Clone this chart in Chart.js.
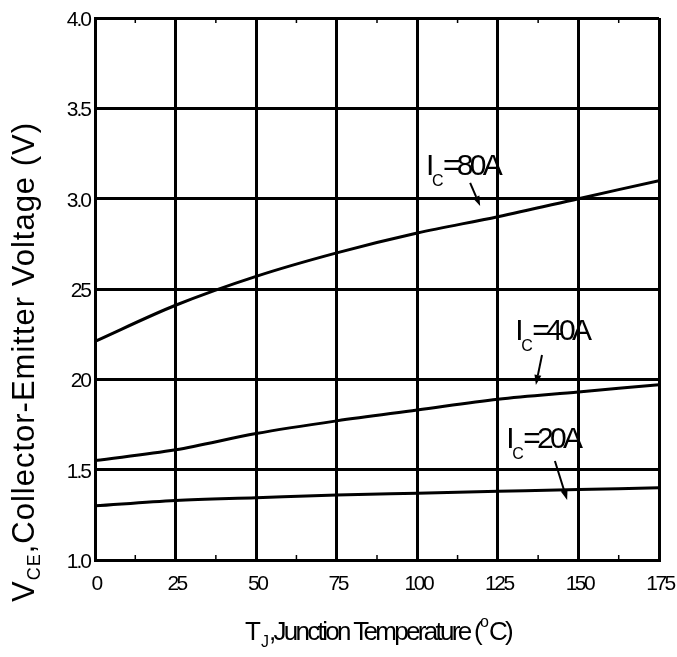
<!DOCTYPE html>
<html>
<head>
<meta charset="utf-8">
<script src="https://cdn.jsdelivr.net/npm/chart.js@4/dist/chart.umd.min.js"></script>
<style>
  html, body { margin: 0; padding: 0; background: #fff; }
  #wrap { width: 677px; height: 657px; }
</style>
</head>
<body>
<div id="wrap"><canvas id="chart" width="677" height="657"></canvas></div>
<script>
// VCE vs junction temperature
const temps = [0, 25, 50, 75, 100, 125, 150, 175];
const vce80 = [2.21, 2.41, 2.57, 2.70, 2.81, 2.90, 3.00, 3.10];
const vce40 = [1.55, 1.61, 1.70, 1.77, 1.83, 1.89, 1.93, 1.97];
const vce20 = [1.30, 1.33, 1.345, 1.36, 1.37, 1.38, 1.39, 1.40];

const xTickValues = [0, 25, 50, 75, 100, 125, 150, 175];
const xTickLabels = ['0', '25', '50', '75', '100', '125', '150', '175'];
const yTickValues = [1.0, 1.5, 2.0, 2.5, 3.0, 3.5, 4.0];
const yTickLabels = ['1.0', '1.5', '20', '25', '3.0', '3.5', '4.0'];

// curve callouts: text, label anchor and arrow (data coords)
const calloutText = ['=80A', '=40A', '=20A'];
const calloutAt = [[103.6, 3.131], [131.3, 2.218], [128.5, 1.620]];
const arrowFrom = [[116.4, 3.087], [138.7, 2.135], [142.7, 1.548]];
const arrowTo = [[119.5, 2.959], [136.8, 1.969], [146.5, 1.332]];

const FONT = '"Liberation Sans", Arial, sans-serif';

function pts(ys) { return temps.map((t, i) => ({ x: t, y: ys[i] })); }

function arrow(ctx, x1, y1, x2, y2) {
  const ang = Math.atan2(y2 - y1, x2 - x1);
  const len = 10, half = 3.5;
  const bx = x2 - len * Math.cos(ang), by = y2 - len * Math.sin(ang);
  ctx.beginPath(); ctx.moveTo(x1, y1); ctx.lineTo(bx, by); ctx.stroke();
  ctx.beginPath();
  ctx.moveTo(x2, y2);
  ctx.lineTo(bx + half * Math.sin(ang), by - half * Math.cos(ang));
  ctx.lineTo(bx - half * Math.sin(ang), by + half * Math.cos(ang));
  ctx.closePath(); ctx.fill();
}

const extras = {
  id: 'extras',
  afterDraw(chart) {
    const { ctx, chartArea: a } = chart;
    const x = chart.scales.x, y = chart.scales.y;
    ctx.save();
    ctx.fillStyle = '#000'; ctx.strokeStyle = '#000';

    // minor ticks on top and bottom edges
    ctx.lineWidth = 1.5;
    for (let v = 12.5; v < 175; v += 25) {
      const px = x.getPixelForValue(v);
      ctx.beginPath();
      ctx.moveTo(px, a.bottom); ctx.lineTo(px, a.bottom - 5);
      ctx.moveTo(px, a.top); ctx.lineTo(px, a.top + 5);
      ctx.stroke();
    }

    // tick labels
    ctx.font = '21px ' + FONT;
    ctx.letterSpacing = '-2.5px';
    ctx.textBaseline = 'alphabetic';
    ctx.textAlign = 'center';
    xTickValues.forEach((v, i) => ctx.fillText(xTickLabels[i], x.getPixelForValue(v) + 1, a.bottom + 30));
    ctx.letterSpacing = '-2px';
    ctx.textAlign = 'right';
    yTickValues.forEach((v, i) => ctx.fillText(yTickLabels[i], 90, y.getPixelForValue(v) + 8));

    // callouts
    ctx.textAlign = 'left';
    calloutText.forEach((t, i) => {
      const px = x.getPixelForValue(calloutAt[i][0]);
      const py = y.getPixelForValue(calloutAt[i][1]);
      ctx.font = '30px ' + FONT; ctx.letterSpacing = '0px';
      ctx.fillText('I', px - 3, py);
      ctx.font = '16px ' + FONT;
      ctx.fillText('C', px + 3, py + 11);
      ctx.font = '30px ' + FONT; ctx.letterSpacing = '-3.7px';
      ctx.fillText(t, px + 14, py);
      ctx.lineWidth = 2;
      arrow(ctx, x.getPixelForValue(arrowFrom[i][0]), y.getPixelForValue(arrowFrom[i][1]),
                 x.getPixelForValue(arrowTo[i][0]), y.getPixelForValue(arrowTo[i][1]));
    });

    // x axis title: T_J,Junction Temperature (°C)
    const big = '26px ' + FONT, small = '16px ' + FONT, ls = '-2.7px';
    const parts = [
      { t: 'T', f: big, ls: '0px', dy: 0 },
      { t: 'J', f: small, ls: '0px', dy: 7 },
      { t: ',Junction Temperature (', f: big, ls: ls, dy: 0 },
      { t: 'o', f: small, ls: '0px', dy: -13 },
      { t: 'C)', f: big, ls: ls, dy: 0 }
    ];
    let total = 0;
    parts.forEach(p => { ctx.font = p.f; ctx.letterSpacing = p.ls; p.w = ctx.measureText(p.t).width; total += p.w; });
    let cx = 378 - total / 2;
    parts.forEach(p => { ctx.font = p.f; ctx.letterSpacing = p.ls; ctx.fillText(p.t, cx, 640 + p.dy); cx += p.w; });

    // y axis title, rotated
    ctx.translate(34, 362);
    ctx.rotate(-Math.PI / 2);
    const yparts = [
      { t: 'V', f: '31px ' + FONT, dy: 0 },
      { t: 'CE', f: '18px ' + FONT, dy: 6 },
      { t: ',Collector-Emitter Voltage (V)', f: '31px ' + FONT, dy: 0 }
    ];
    ctx.letterSpacing = '1px';
    total = 0;
    yparts.forEach(p => { ctx.font = p.f; p.w = ctx.measureText(p.t).width; total += p.w; });
    cx = -total / 2;
    yparts.forEach(p => { ctx.font = p.f; ctx.fillText(p.t, cx, p.dy); cx += p.w; });

    ctx.restore();
  }
};

const series = [vce80, vce40, vce20];

new Chart(document.getElementById('chart'), {
  type: 'line',
  data: {
    datasets: series.map(s => ({
      data: pts(s),
      borderColor: '#000',
      borderWidth: 3,
      pointRadius: 0,
      fill: false,
      cubicInterpolationMode: 'monotone'
    }))
  },
  options: {
    responsive: false,
    animation: false,
    devicePixelRatio: 1,
    layout: { padding: { top: 18, right: 18, left: 0, bottom: 0 } },
    plugins: { legend: { display: false }, tooltip: { enabled: false } },
    scales: {
      x: {
        type: 'linear', min: 0, max: 175,
        ticks: { display: false, stepSize: 25 },
        grid: { color: '#000', lineWidth: 3, drawTicks: false },
        border: { display: true, color: '#000', width: 3 },
        afterFit(s) { s.height = 97; }
      },
      y: {
        type: 'linear', min: 1, max: 4,
        ticks: { display: false, stepSize: 0.5 },
        grid: { color: '#000', lineWidth: 3, drawTicks: false },
        border: { display: true, color: '#000', width: 3 },
        afterFit(s) { s.width = 95; }
      }
    }
  },
  plugins: [extras]
});
</script>
</body>
</html>
